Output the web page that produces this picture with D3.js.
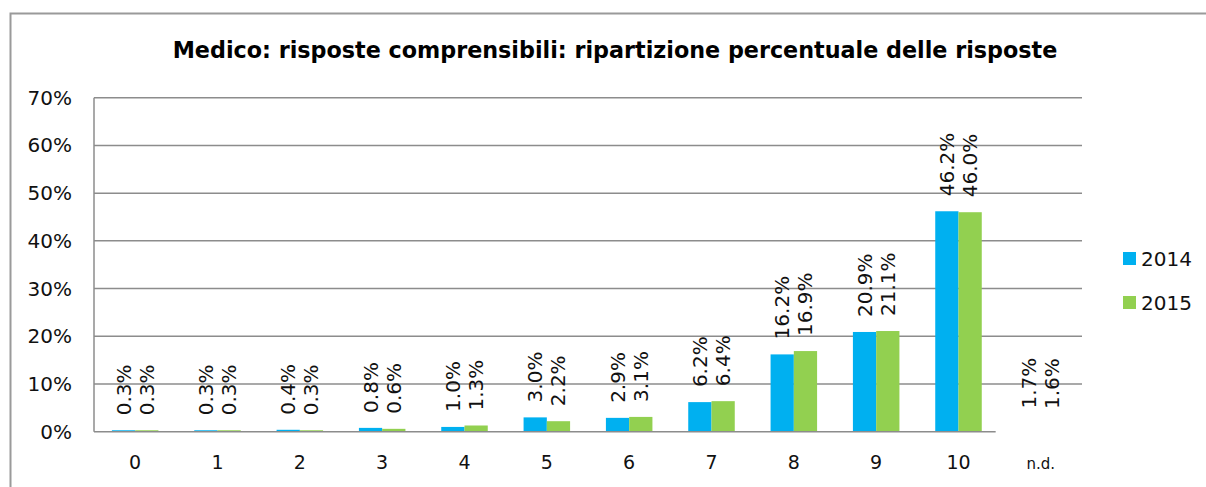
<!DOCTYPE html>
<html>
<head>
<meta charset="utf-8">
<script src="https://cdn.jsdelivr.net/npm/d3@7"></script>
<style>
  body { margin: 0; background: #fff; }
  svg { display: block; font-family: "DejaVu Sans", "Noto Sans", sans-serif; }
</style>
</head>
<body>
<div id="chart"></div>
<script>
'use strict';

var categories = ['0', '1', '2', '3', '4', '5', '6', '7', '8', '9', '10', 'n.d.'];
var series = ['2014', '2015'];
var values2014 = [0.3, 0.3, 0.4, 0.8, 1.0, 3.0, 2.9, 6.2, 16.2, 20.9, 46.2, 1.7];
var values2015 = [0.3, 0.3, 0.3, 0.6, 1.3, 2.2, 3.1, 6.4, 16.9, 21.1, 46.0, 1.6];
var yTicks = [0, 10, 20, 30, 40, 50, 60, 70];
var title = 'Medico: risposte comprensibili: ripartizione percentuale delle risposte';

var colors = { '2014': '#00B0F0', '2015': '#92D050' };
var width = 1206;
var height = 487;
var plot = { left: 94, right: 1082, top: 97.7, bottom: 431.7 };

var svg = d3.select('#chart')
  .append('svg')
  .attr('width', width)
  .attr('height', height);

/* outer frame */
svg.append('path')
  .attr('d', 'M10.5,' + height + 'V13.5H' + width)
  .attr('fill', 'none')
  .attr('stroke', '#9a9a9a')
  .attr('stroke-width', 2);

var titleText = svg.append('text')
  .attr('x', 615)
  .attr('y', 58)
  .attr('text-anchor', 'middle')
  .style('font-size', '20px')
  .style('font-weight', 'bold')
  .text(title);

/* fit the title to the width it has in the original */
var tw = titleText.node().getComputedTextLength();
titleText.style('font-size', (20 * 885 / tw).toFixed(2) + 'px');

var x = d3.scaleBand()
  .domain(categories)
  .range([plot.left, plot.right]);

var x1 = d3.scaleBand()
  .domain(series)
  .range([0, x.bandwidth()])
  .paddingOuter(0.77);

var y = d3.scaleLinear()
  .domain([0, 70])
  .range([plot.bottom, plot.top]);

/* gridlines */
svg.append('g')
  .selectAll('line')
  .data(yTicks.slice(1))
  .enter()
  .append('line')
  .attr('x1', plot.left)
  .attr('x2', plot.right)
  .attr('y1', function(d) { return y(d); })
  .attr('y2', function(d) { return y(d); })
  .attr('stroke', '#8c8c8c')
  .attr('stroke-width', 1.5);

/* y axis labels */
svg.append('g')
  .selectAll('text')
  .data(yTicks)
  .enter()
  .append('text')
  .attr('x', 72)
  .attr('y', function(d) { return y(d) + 7; })
  .attr('text-anchor', 'end')
  .style('font-size', '20px')
  .style('fill', '#111')
  .text(function(d) { return d + '%'; });

var rows = categories.map(function(c, i) {
  return { cat: c, vals: [
    { s: '2014', v: values2014[i] },
    { s: '2015', v: values2015[i] }
  ] };
});

var groups = svg.append('g')
  .selectAll('g')
  .data(rows)
  .enter()
  .append('g')
  .attr('transform', function(d) { return 'translate(' + x(d.cat) + ',0)'; });

/* bars (n.d. bars have no fill in the original) */
groups.selectAll('rect')
  .data(function(d) {
    return d.vals.map(function(v) { return { s: v.s, v: v.v, cat: d.cat }; });
  })
  .enter()
  .append('rect')
  .attr('x', function(d) { return x1(d.s); })
  .attr('width', x1.bandwidth())
  .attr('y', function(d) { return y(d.v); })
  .attr('height', function(d) { return y(0) - y(d.v); })
  .attr('fill', function(d) { return d.cat === 'n.d.' ? 'none' : colors[d.s]; });

/* value labels */
groups.selectAll('text')
  .data(function(d) { return d.vals; })
  .enter()
  .append('text')
  .attr('transform', function(d) {
    var cx = x1(d.s) + x1.bandwidth() / 2 + 7;
    return 'translate(' + cx + ',' + (y(d.v) - 15) + ') rotate(-90)';
  })
  .style('font-size', '20px')
  .style('fill', '#111')
  .text(function(d) { return d.v.toFixed(1) + '%'; });

/* axes lines */
svg.append('line')
  .attr('x1', plot.left)
  .attr('x2', plot.left)
  .attr('y1', plot.top)
  .attr('y2', plot.bottom)
  .attr('stroke', '#8c8c8c')
  .attr('stroke-width', 1.5);

svg.append('line')
  .attr('x1', plot.left)
  .attr('x2', x('10') + x.bandwidth() - 4)
  .attr('y1', plot.bottom)
  .attr('y2', plot.bottom)
  .attr('stroke', '#8c8c8c')
  .attr('stroke-width', 1.5);

/* category labels */
svg.append('g')
  .selectAll('text')
  .data(categories)
  .enter()
  .append('text')
  .attr('x', function(d) { return x(d) + x.bandwidth() / 2; })
  .attr('y', 469)
  .attr('text-anchor', 'middle')
  .style('font-size', function(d) { return d === 'n.d.' ? '15px' : '19px'; })
  .style('fill', '#111')
  .text(function(d) { return d; });

/* legend */
var legend = svg.selectAll('.legend')
  .data(series)
  .enter()
  .append('g')
  .attr('class', 'legend')
  .attr('transform', function(d, i) {
    return 'translate(1123,' + (252 + i * 44) + ')';
  });

legend.append('rect')
  .attr('width', 13)
  .attr('height', 13)
  .attr('fill', function(d) { return colors[d]; });

legend.append('text')
  .attr('x', 18)
  .attr('y', 14)
  .style('font-size', '20px')
  .style('fill', '#111')
  .text(function(d) { return d; });
</script>
</body>
</html>
